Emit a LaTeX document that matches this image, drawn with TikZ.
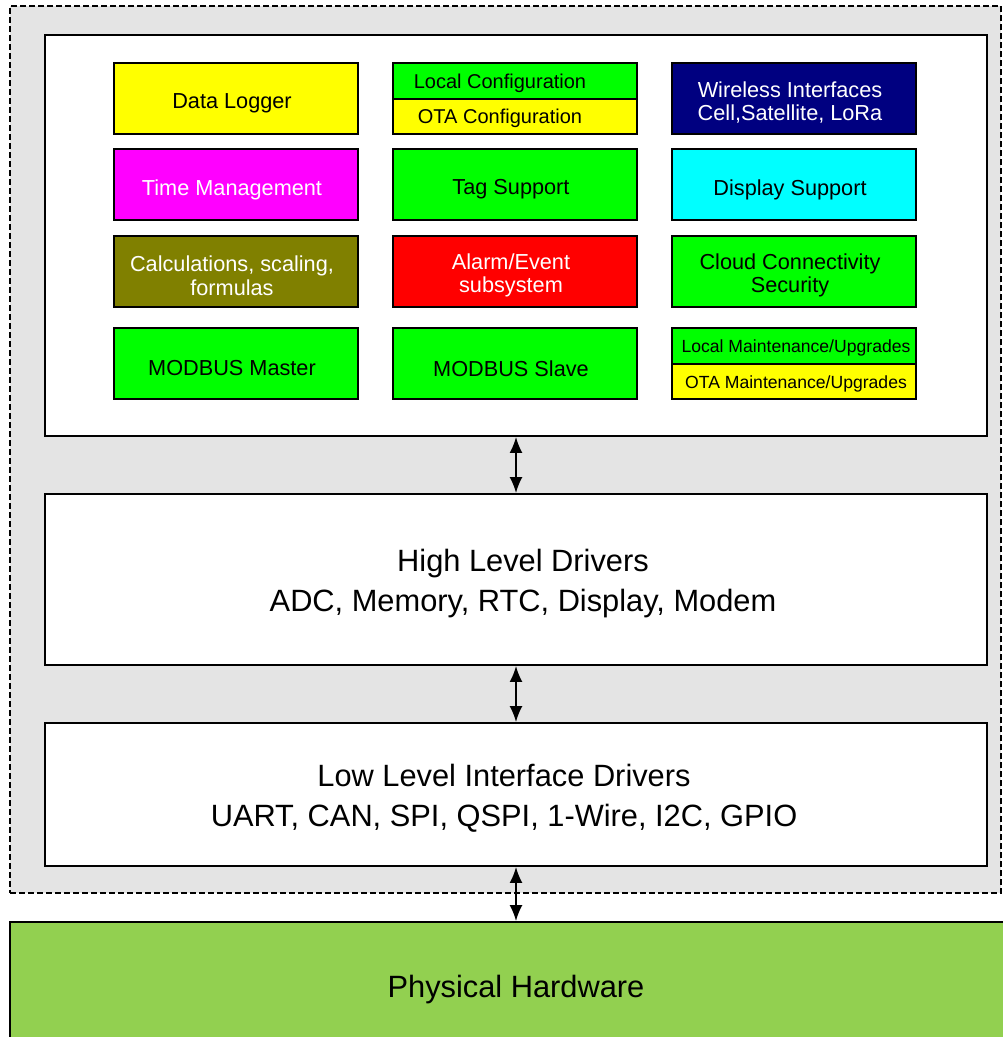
\documentclass[tikz,border=0pt]{standalone}
\usepackage{fontspec}
\setmainfont{Liberation Sans}
\usetikzlibrary{arrows.meta,positioning}
\definecolor{panelgray}{HTML}{E4E4E4}
\definecolor{hwgreen}{HTML}{92D050}
\definecolor{navyblue}{HTML}{000080}
\definecolor{olivebox}{HTML}{808000}
\definecolor{boxyellow}{HTML}{FFFF00}
\definecolor{boxgreen}{HTML}{00FF00}
\definecolor{boxmagenta}{HTML}{FF00FF}
\definecolor{boxcyan}{HTML}{00FFFF}
\definecolor{boxred}{HTML}{FF0000}

\begin{document}
\begin{tikzpicture}[x=1pt, y=-1pt,
    every node/.style={inner sep=0pt, align=center},
    blk/.style={draw, line width=1.6pt, minimum width=244pt, minimum height=71pt},
    half/.style={blk, minimum height=35.5pt},
    layer/.style={draw, line width=1.8pt, fill=white, minimum width=942pt},
    tb/.style={font=\fontsize{21.7}{23.5}\selectfont, xshift=-4pt, yshift=-5pt},
    tb2/.style={tb, yshift=1pt},
    th/.style={font=\fontsize{20}{22}\selectfont, xshift=-15pt, yshift=-2pt},
    tm/.style={font=\fontsize{17.6}{20}\selectfont, xshift=2pt, yshift=-2pt},
    tl/.style={font=\fontsize{30.8}{40}\selectfont, yshift=-4pt},
    link/.style={{Latex[length=16pt,width=13pt]}-{Latex[length=16pt,width=13pt]}, line width=2pt}]
    \useasboundingbox (0,0) rectangle (1003,1037);
    \clip (0,0) rectangle (1003,1037);

    % Firmware frame
    \node[draw, fill=panelgray, line width=1.4pt, dash pattern=on 6pt off 3pt, minimum width=991pt, minimum height=887pt] (fw) at (505.5,449.5) {};
    \node[layer, minimum height=401pt] (app) at (516,235.5) {};
    \node[layer, minimum height=171pt, label={[tl, xshift=7pt]center:{High Level Drivers\\ADC, Memory, RTC, Display, Modem}}] (hld) at (516,579.5) {};
    \node[layer, minimum height=143pt, label={[tl, xshift=-12pt]center:{Low Level Interface Drivers\\UART, CAN, SPI, QSPI, 1-Wire, I2C, GPIO}}] (lld) at (516,794.5) {};

    % Hardware
    \node[draw, fill=hwgreen, line width=1.8pt, minimum width=1000pt, minimum height=128pt, label={[tl, xshift=6pt]center:Physical Hardware}] (hw) at (510,986) {};

    % Application blocks
    \node[blk, fill=boxyellow, label={[tb]center:Data Logger}] (logger) at (236,98.5) {};
    \node[half, fill=boxgreen, label={[th]center:Local Configuration}] (lconf) at (515,81) {};
    \node[half, fill=boxyellow, label={[th]center:OTA Configuration}] (oconf) at (515,116.5) {};
    \node[blk, fill=navyblue, label={[tb2, white]center:{Wireless Interfaces\\Cell,Satellite, LoRa}}] (wless) at (794,98.5) {};

    \node[blk, fill=boxmagenta, label={[tb, white]center:Time Management}] (time) at (236,184.5) {};
    \node[blk, fill=boxgreen, label={[tb]center:Tag Support}] (tag) at (515,184.5) {};
    \node[blk, fill=boxcyan, label={[tb]center:Display Support}] (disp) at (794,184.5) {};

    \node[blk, fill=olivebox, label={[tb2, white]center:{Calculations, scaling,\\formulas}}] (calc) at (236,271.5) {};
    \node[blk, fill=boxred, label={[tb2, white]center:{Alarm/Event\\subsystem}}] (alarm) at (515,271.5) {};
    \node[blk, fill=boxgreen, label={[tb2]center:{Cloud Connectivity\\Security}}] (cloud) at (794,271.5) {};

    \node[blk, fill=boxgreen, label={[tb]center:MODBUS Master}] (master) at (236,363.5) {};
    \node[blk, fill=boxgreen, label={[tb]center:MODBUS Slave}] (slave) at (515,363.5) {};
    \node[half, fill=boxgreen, label={[tm]center:Local Maintenance/Upgrades}] (lmaint) at (794,346) {};
    \node[half, fill=boxyellow, label={[tm]center:OTA Maintenance/Upgrades}] (omaint) at (794,381.5) {};

    % Arrows
    \draw[link] (app.south) -- (hld.north);
    \draw[link] (hld.south) -- (lld.north);
    \draw[link] (lld.south) -- (lld.south |- hw.north);
\end{tikzpicture}
\end{document}
